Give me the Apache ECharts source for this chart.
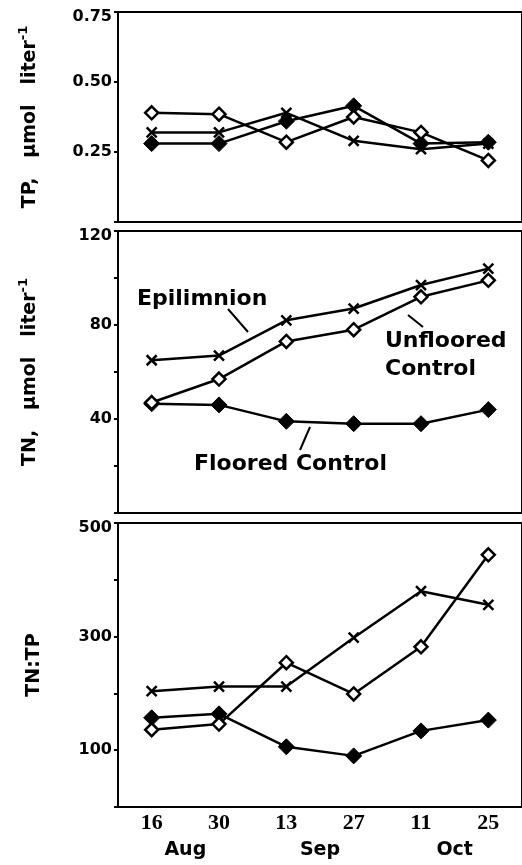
<!DOCTYPE html>
<html>
<head>
<meta charset="utf-8">
<script src="https://cdn.jsdelivr.net/npm/echarts@6/dist/echarts.min.js"></script>
<style>
  html, body { margin: 0; padding: 0; background: #fff; }
  #chart { width: 522px; height: 865px; }
</style>
</head>
<body>
<div id="chart"></div>
<script>
// sampling dates and months
const days = ["16", "30", "13", "27", "11", "25"];
const months = ["Aug", "Sep", "Oct"];

// TP, umol/L
const tpEpi = [0.32, 0.32, 0.39, 0.29, 0.26, 0.28];
const tpUnfloored = [0.39, 0.385, 0.285, 0.375, 0.32, 0.22];
const tpFloored = [0.28, 0.28, 0.36, 0.415, 0.28, 0.285];

// TN, umol/L
const tnEpi = [65, 67, 82, 87, 97, 104];
const tnUnfloored = [47, 57, 73, 78, 92, 99];
const tnFloored = [46.5, 46, 39, 38, 38, 44];

// TN:TP
const ratioEpi = [204, 212, 212, 298, 380, 356];
const ratioUnfloored = [136, 146, 254, 199, 282, 444];
const ratioFloored = [157, 164, 106, 90, 134, 153];

const sans = "DejaVu Sans";
const cross = "path://M0,0L10,10M10,0L0,10";

const grids = [
  { left: 118, top: 12, width: 406, height: 210 },
  { left: 118, top: 231, width: 406, height: 282 },
  { left: 118, top: 523, width: 406, height: 284 },
].map((g) => Object.assign(g, { show: true, borderColor: "#000", borderWidth: 2 }));

function dayAxis(i) {
  return {
    type: "category",
    gridIndex: i,
    data: days,
    axisLine: { lineStyle: { color: "#000", width: 2 } },
    axisTick: { inside: true, length: 6, alignWithLabel: true, lineStyle: { color: "#000", width: 2 } },
    axisLabel: {
      show: i === 2,
      margin: 5,
      color: "#000",
      fontFamily: "Liberation Serif",
      fontWeight: "bold",
      fontSize: 22,
    },
    splitLine: { show: false },
  };
}

const tickFont = { color: "#000", fontFamily: sans, fontWeight: "bold", fontSize: 16 };

function valueAxis(i, max, interval, shown, digits, name) {
  return {
    type: "value",
    gridIndex: i,
    min: 0,
    max: max,
    interval: interval,
    name: name,
    nameLocation: "middle",
    nameRotate: 90,
    nameGap: 74,
    nameTextStyle: {
      color: "#000",
      fontFamily: sans,
      fontWeight: "bold",
      fontSize: 19,
      rich: {
        sup: { fontSize: 13, fontFamily: sans, fontWeight: "bold", color: "#000", padding: [0, 0, 14, 0] },
      },
    },
    axisLine: { show: true, lineStyle: { color: "#000", width: 2 } },
    axisTick: { show: true, length: 4, lineStyle: { color: "#000", width: 2 } },
    axisLabel: Object.assign({}, tickFont, {
      margin: 6,
      formatter: (v) => {
        if (!shown(v)) return "";
        const s = v.toFixed(digits);
        // top label sits a little below the frame
        return v === max ? "{top|" + s + "}" : s;
      },
      rich: { top: Object.assign({}, tickFont, { padding: [9, 0, 0, 0] }) },
    }),
    splitLine: { show: false },
  };
}

function trio(i, epi, unfl, fl) {
  const base = {
    type: "line",
    xAxisIndex: i,
    yAxisIndex: i,
    lineStyle: { color: "#000", width: 2.5 },
    silent: true,
  };
  return [
    Object.assign({}, base, {
      name: "Epilimnion",
      data: epi,
      symbol: cross,
      symbolSize: 10,
      itemStyle: { color: "#000", borderColor: "#000", borderWidth: 2.5 },
    }),
    Object.assign({}, base, {
      name: "Floored Control",
      data: fl,
      symbol: "diamond",
      symbolSize: 16,
      itemStyle: { color: "#000", borderColor: "#000", borderWidth: 1 },
    }),
    Object.assign({}, base, {
      name: "Unfloored Control",
      data: unfl,
      symbol: "diamond",
      symbolSize: 13,
      itemStyle: { color: "#fff", borderColor: "#000", borderWidth: 2.5 },
    }),
  ];
}

const labelFont = "bold 22px '" + sans + "'";
function note(text, x, y) {
  return { type: "text", x: x, y: y, style: { text: text, font: labelFont, fill: "#000", verticalAlign: "middle" } };
}
function leader(x1, y1, x2, y2) {
  return { type: "line", shape: { x1: x1, y1: y1, x2: x2, y2: y2 }, style: { stroke: "#000", lineWidth: 2 } };
}

const option = {
  animation: false,
  backgroundColor: "#fff",
  grid: grids,
  xAxis: [
    dayAxis(0),
    dayAxis(1),
    dayAxis(2),
    {
      type: "category",
      gridIndex: 2,
      data: months,
      position: "bottom",
      offset: 28,
      axisLine: { show: false },
      axisTick: { show: false },
      axisLabel: { margin: 6, color: "#000", fontFamily: sans, fontWeight: "bold", fontSize: 19 },
    },
  ],
  yAxis: [
    valueAxis(0, 0.75, 0.25, (v) => v > 0, 2, "TP,   µmol   liter{sup|-1}"),
    valueAxis(1, 120, 20, (v) => v > 0 && v % 40 === 0, 0, "TN,   µmol   liter{sup|-1}"),
    valueAxis(2, 500, 100, (v) => v % 200 === 100, 0, "TN:TP"),
  ],
  series: [].concat(
    trio(0, tpEpi, tpUnfloored, tpFloored),
    trio(1, tnEpi, tnUnfloored, tnFloored),
    trio(2, ratioEpi, ratioUnfloored, ratioFloored)
  ),
  graphic: [
    note("Epilimnion", 137, 299),
    leader(228, 309, 248, 332),
    note("Unfloored", 385, 341),
    note("Control", 385, 369),
    leader(408, 315, 423, 327),
    note("Floored Control", 194, 464),
    leader(310, 427, 300, 450),
  ],
};

const chart = echarts.init(document.getElementById("chart"));
chart.setOption(option);
</script>
</body>
</html>
